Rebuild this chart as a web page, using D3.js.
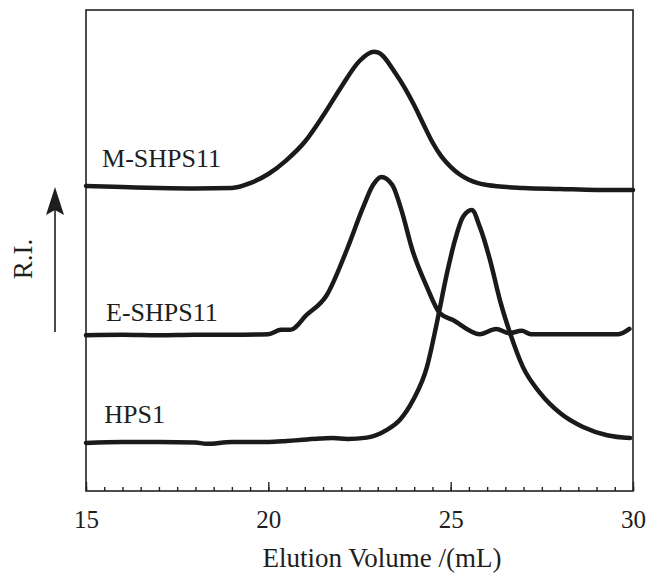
<!DOCTYPE html>
<html lang="en">

<head>
    <meta charset="UTF-8">
    <title>Elution profiles</title>
    <script src="https://d3js.org/d3.v7.min.js"></script>
    <style>
        body {
            margin: 0;
            padding: 0;
            background-color: #fff;
        }

        .frame {
            fill: none;
            stroke: #222;
            stroke-width: 1.6px;
        }

        .curve {
            fill: none;
            stroke: #1a1a1a;
            stroke-width: 4.5px;
            stroke-linejoin: round;
            stroke-linecap: round;
        }

        .axis line {
            stroke: #222;
            stroke-width: 1.4px;
        }
    </style>
</head>

<body>
    <svg id="chart" width="649" height="575"></svg>
    <script>
        // elution volume (mL) and R.I. signal (arbitrary units, curves already offset)
        const mVolume = [15, 16, 17, 18, 19, 19.5, 20, 20.5, 21, 21.5, 22, 22.5, 22.9, 23.0, 23.5, 24, 24.25, 24.5, 24.75, 25, 25.25, 25.5, 26, 27, 28, 29, 30];
        const mSignal = [63.4, 63.2, 63.0, 62.9, 63.0, 64.0, 65.9, 68.8, 72.6, 78.0, 84.0, 89.4, 91.3, 91.2, 86.7, 80.2, 76.3, 72.5, 69.5, 67.4, 65.8, 64.7, 63.6, 63.0, 62.8, 62.6, 62.6];

        const eVolume = [15, 16, 17, 18, 19, 20, 20.35, 20.6, 21.05, 21.6, 22.15, 22.6, 22.87, 23.1, 23.4, 23.65, 23.95, 24.35, 24.7, 25.05, 25.8, 26.25, 26.6, 26.95, 27.2, 28, 29, 29.6, 29.9];
        const eSignal = [32.4, 32.5, 32.4, 32.5, 32.5, 32.6, 33.5, 33.5, 36.6, 40.7, 50.1, 59.0, 63.6, 65.3, 63.6, 58.4, 50.1, 42.4, 37.0, 35.6, 32.6, 33.7, 32.8, 33.3, 32.6, 32.6, 32.6, 32.6, 33.7];

        const hVolume = [15, 16, 17, 18, 18.3, 19, 20, 20.5, 20.87, 21.42, 21.77, 22.16, 22.7, 23.25, 23.61, 23.97, 24.35, 24.62, 24.9, 25.12, 25.34, 25.58, 25.8, 26.08, 26.35, 26.63, 26.98, 27.45, 28, 28.63, 29.29, 29.92];
        const hSignal = [10.0, 10.2, 10.2, 10.1, 9.8, 10.2, 10.2, 10.4, 10.6, 10.9, 11.0, 10.8, 11.1, 12.7, 14.8, 18.9, 25.8, 34.9, 45.3, 52.2, 57.0, 58.4, 54.9, 48.0, 39.7, 32.8, 25.8, 20.4, 16.2, 13.3, 11.6, 11.0];

        const seriesNames = ["M-SHPS11", "E-SHPS11", "HPS1"];
        const majorTicks = [15, 20, 25, 30];

        const serif = "'Liberation Serif', 'Times New Roman', Times, 'DejaVu Serif', serif";

        const svg = d3.select("#chart");
        const plotLeft = 86, plotRight = 633, plotTop = 10, plotBottom = 491;

        const x = d3.scaleLinear().domain([15, 30]).range([plotLeft, plotRight]);
        const y = d3.scaleLinear().domain([0, 100]).range([plotBottom, plotTop]);

        // minor ticks every 0.5 mL, pointing inward
        svg.append("g")
            .attr("class", "axis")
            .attr("transform", `translate(0,${plotBottom})`)
            .call(d3.axisBottom(x).tickValues(d3.range(15, 30.01, 0.5)).tickSize(-4).tickFormat(""))
            .call(g => g.select(".domain").remove());

        // major ticks with labels
        svg.append("g")
            .attr("class", "axis")
            .attr("transform", `translate(0,${plotBottom})`)
            .call(d3.axisBottom(x).tickValues(majorTicks).tickSize(-9).tickPadding(19).tickFormat(d3.format("d")))
            .attr("font-family", serif)
            .attr("font-size", 25)
            .call(g => g.select(".domain").remove())
            .call(g => g.selectAll("text").attr("fill", "#1e1e1e"));

        svg.append("rect")
            .attr("class", "frame")
            .attr("x", plotLeft)
            .attr("y", plotTop)
            .attr("width", plotRight - plotLeft)
            .attr("height", plotBottom - plotTop);

        const line = d3.line()
            .x(d => x(d[0]))
            .y(d => y(d[1]))
            .curve(d3.curveMonotoneX);

        const series = [
            d3.zip(mVolume, mSignal),
            d3.zip(eVolume, eSignal),
            d3.zip(hVolume, hSignal)
        ];

        svg.selectAll(".curve")
            .data(series)
            .enter()
            .append("path")
            .attr("class", "curve")
            .attr("d", line);

        // curve labels sit just above each baseline
        const labelOffset = [-19, -14, -20];
        const labelX = [15.44, 15.55, 15.5];
        svg.selectAll(".label")
            .data(seriesNames)
            .enter()
            .append("text")
            .attr("class", "label")
            .attr("x", (d, i) => x(labelX[i]))
            .attr("y", (d, i) => y(series[i][0][1]) + labelOffset[i])
            .attr("font-family", serif)
            .attr("font-size", 26)
            .attr("fill", "#1e1e1e")
            .text(d => d);

        // x axis title
        svg.append("text")
            .attr("x", 382)
            .attr("y", 567)
            .attr("text-anchor", "middle")
            .attr("font-family", serif)
            .attr("font-size", 27)
            .attr("fill", "#1e1e1e")
            .text("Elution Volume /(mL)");

        // y label with arrow
        svg.append("text")
            .attr("transform", "translate(32,259) rotate(-90)")
            .attr("text-anchor", "middle")
            .attr("font-family", serif)
            .attr("font-size", 27)
            .attr("fill", "#1e1e1e")
            .text("R.I.");

        svg.append("line")
            .attr("x1", 55).attr("x2", 55)
            .attr("y1", 332).attr("y2", 205)
            .attr("stroke", "#1e1e1e")
            .attr("stroke-width", 1.6);

        svg.append("path")
            .attr("d", "M55,187 L64,215 L55,210 L46,215 Z")
            .attr("fill", "#1e1e1e");
    </script>
</body>

</html>
